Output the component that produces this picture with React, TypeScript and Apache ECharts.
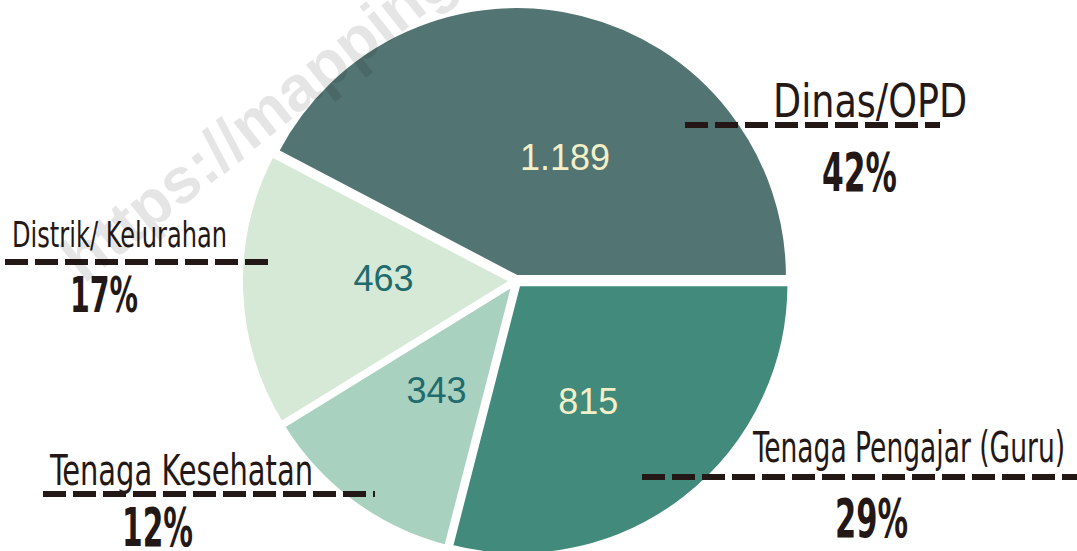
import React, { useEffect, useRef } from "react";
import * as echarts from "echarts";

// ---- data ----
const categories = ["Dinas/OPD", "Distrik/ Kelurahan", "Tenaga Kesehatan", "Tenaga Pengajar (Guru)"];
const values = [1189, 463, 343, 815];
const percentLabels = ["42%", "17%", "12%", "29%"];

// ---- styles / layout ----
const sliceColors = ["#527472", "#d5e9d6", "#a9d1bf", "#428a7b"];
const valueLabelColors = ["#f3efc6", "#1f6b6e", "#1f6b6e", "#f3efc6"];
const valueLabelShift = [[15, 15], [10, -7], [5, -5], [-15, 8]];
// name label boxes: left, right, capTop, baseline
const nameBoxes = [
  [773, 967, 83, 117],
  [12, 227, 222, 248],
  [50, 313, 455, 485],
  [753, 1065, 432, 463],
];
// percent label boxes: left, right, top, baseline
const pctBoxes = [
  [822, 897, 153, 192],
  [70, 138, 277, 313],
  [122, 193, 508, 547],
  [835, 908, 500, 538],
];
// dashed rules: x1, x2, y
const rules = [
  [685, 940, 125],
  [5, 275, 262],
  [43, 375, 494],
  [642, 1077, 477],
];

const NAME_FONT = "'Liberation Sans Narrow', 'DejaVu Sans Condensed', 'Liberation Sans', sans-serif";
const PCT_FONT = "'Liberation Sans Narrow', 'DejaVu Sans Condensed', 'Liberation Sans', sans-serif";
const INK = "#231815";

function fmtThousands(v: number) {
  return String(v).replace(/\B(?=(\d{3})+(?!\d))/g, ".");
}

export default function App() {
  const ref = useRef<HTMLDivElement>(null);
  useEffect(() => {
    if (!ref.current) return;
    const chart = echarts.init(ref.current, null, { renderer: "svg" });
    const ctx = document.createElement("canvas").getContext("2d")!;
    const measure = (text: string, font: string) => {
      ctx.font = font;
      return ctx.measureText(text).width;
    };

    const graphics: any[] = [];
    rules.forEach(([x1, x2, y]) => {
      graphics.push({
        type: "line",
        shape: { x1, y1: y, x2, y2: y },
        style: { stroke: INK, lineWidth: 6, lineDash: [23, 7] },
        z: 10,
      });
    });
    categories.forEach((name, i) => {
      const [l, r, top, base] = nameBoxes[i];
      const cap = base - top;
      const fs = Math.round(cap / 0.716);
      const w = measure(name, `normal ${fs}px ${NAME_FONT}`);
      graphics.push({
        type: "text",
        x: l,
        y: (top + base) / 2,
        scaleX: (r - l) / w,
        style: {
          text: name,
          fontSize: fs,
          fontFamily: NAME_FONT,
          fill: INK,
          align: "left",
          verticalAlign: "middle",
        },
        z: 11,
      });
    });
    percentLabels.forEach((txt, i) => {
      const [l, r, top, base] = pctBoxes[i];
      const fs = Math.round((base - top) / 0.716);
      const w = measure(txt, `bold ${fs}px ${PCT_FONT}`);
      graphics.push({
        type: "text",
        x: l,
        y: (top + base) / 2,
        scaleX: (r - l) / w,
        style: {
          text: txt,
          fontSize: fs,
          fontWeight: "bold",
          fontFamily: PCT_FONT,
          fill: INK,
          align: "left",
          verticalAlign: "middle",
        },
        z: 11,
      });
    });
    graphics.push({
      type: "text",
      x: 90,
      y: 292,
      rotation: 0.67,
      style: {
        text: "https://mapping",
        fontSize: 64,
        fontWeight: "bold",
        fontFamily: "'Liberation Sans', Arial, sans-serif",
        fill: "rgba(0,0,0,0.1)",
        align: "left",
        verticalAlign: "bottom",
      },
      z: 100,
    });

    chart.setOption({
      animation: false,
      backgroundColor: "#ffffff",
      graphic: graphics,
      series: [
        {
          type: "pie",
          center: [516, 281],
          radius: 271,
          startAngle: 0,
          clockwise: false,
          selectedMode: "multiple",
          selectedOffset: 4,
          emphasis: { disabled: true },
          itemStyle: { borderColor: "#ffffff", borderWidth: 4 },
          labelLine: { show: false },
          label: {
            show: true,
            position: "inside",
            fontSize: 36,
            fontFamily: "'Liberation Sans', Arial, sans-serif",
            formatter: (p: any) => fmtThousands(p.value),
          },
          labelLayout: (p: any) => ({
            dx: valueLabelShift[p.dataIndex][0],
            dy: valueLabelShift[p.dataIndex][1],
          }),
          data: categories.map((name, i) => ({
            name,
            value: values[i],
            selected: true,
            itemStyle: { color: sliceColors[i] },
            label: { color: valueLabelColors[i] },
          })),
        },
      ],
    });
    return () => chart.dispose();
  }, []);
  return (
    <div
      ref={ref}
      style={{ position: "absolute", left: 0, top: 0, width: 1077, height: 551 }}
    />
  );
}
